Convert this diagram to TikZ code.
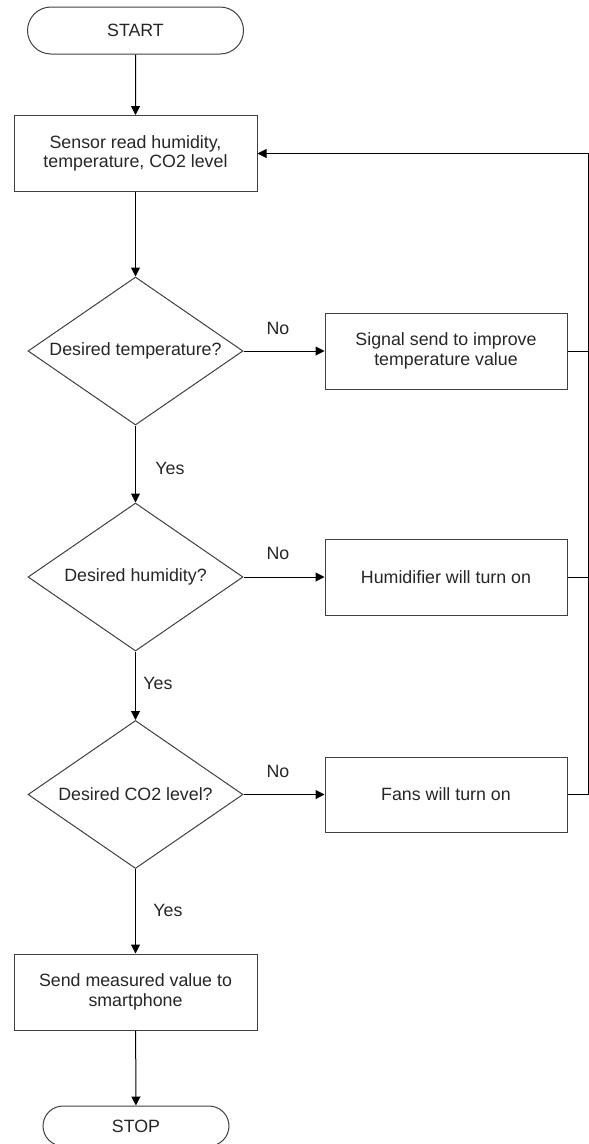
\documentclass[tikz,border=0pt]{standalone}
\usepackage{fontspec}
\setmainfont{Liberation Sans}
\usetikzlibrary{shapes.geometric,shapes.misc,arrows.meta}
\begin{document}
\begin{tikzpicture}[x=1pt,y=-1pt,
  every node/.style={font=\fontsize{17.8}{19.5}\selectfont, text=black!85},
  box/.style={draw=black!75, line width=1pt, rectangle, inner sep=0pt, minimum width=243pt, minimum height=76pt, align=center},
  term/.style={draw=black!75, line width=1pt, rounded rectangle, inner sep=0pt, minimum height=47pt, minimum width=216pt},
  decide/.style={draw=black!75, line width=1pt, diamond, shape aspect=1.45, inner sep=0pt, minimum width=215pt, minimum height=148pt},
  conn/.style={draw=black, line width=1pt},
  arr/.style={conn, -{Triangle[length=9pt,width=9pt]}},
  lbl/.style={inner sep=0pt}
]
\useasboundingbox (0,0) rectangle (589,1144);

\node[term] (start) at (135.5,30.5) {START};
\node[box] (sensor) at (135.5,153.5) {Sensor read humidity,\\temperature, CO2 level};
\node[decide] (d1) at (135.5,351) {Desired temperature?};
\node[box, minimum width=242pt] (b1) at (446,351) {Signal send to improve\\temperature value};
\node[decide] (d2) at (135.5,577) {Desired humidity?};
\node[box, minimum width=242pt] (b2) at (446,577) {Humidifier will turn on};
\node[decide] (d3) at (135.5,794.5) {Desired CO2 level?};
\node[box, minimum width=242pt, minimum height=75pt] (b3) at (446,794.5) {Fans will turn on};
\node[box] (send) at (135.5,992) {Send measured value to\\smartphone};
\node[term, minimum width=186pt, minimum height=40pt] (stop) at (136,1126) {STOP};

\coordinate (rt) at (588,153.5);

\draw[arr] (start) -- (sensor);
\draw[arr] (sensor) -- (d1);
\draw[arr] (d1) -- (d2);
\draw[arr] (d2) -- (d3);
\draw[arr] (d3) -- (send);
\draw[arr] (send) -- (stop);

\draw[arr] (d1.east) -- (b1.west);
\draw[arr] (d2.east) -- (b2.west);
\draw[arr] (d3.east) -- (b3.west);

\draw[conn] (b1.east) -- (b1.east -| rt);
\draw[conn] (b2.east) -- (b2.east -| rt);
\draw[arr] (b3.east) -- (b3.east -| rt) -- (rt) -- (sensor.east);

\node[lbl] (no1) at (278,328) {No};
\node[lbl] (no2) at (278,553) {No};
\node[lbl] (no3) at (278,771) {No};
\node[lbl] (yes1) at (170,468) {Yes};
\node[lbl] (yes2) at (158,683) {Yes};
\node[lbl] (yes3) at (168,910) {Yes};
\end{tikzpicture}
\end{document}
